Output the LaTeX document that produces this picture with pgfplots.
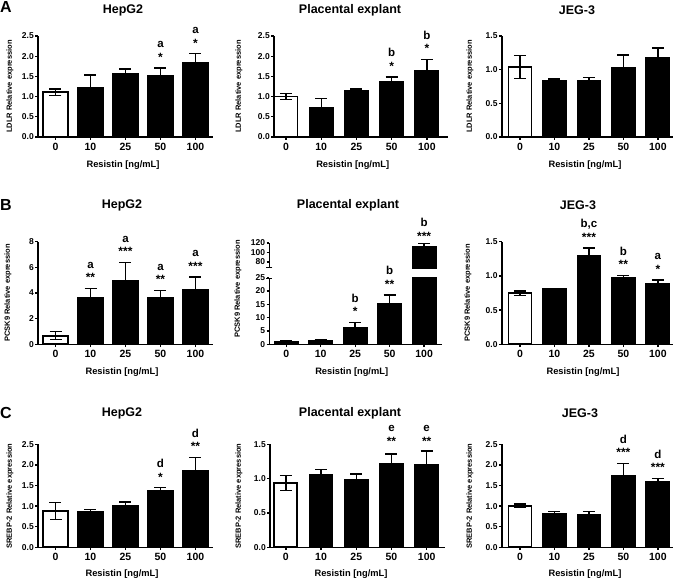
\documentclass[border=0pt]{standalone}
\usepackage{fontspec}
\setmainfont{Liberation Sans}
\usepackage{pgfplots}
\pgfplotsset{compat=1.18}
\usetikzlibrary{arrows.meta}
\newcommand\fs[1]{\fontsize{#1}{#1}\selectfont\bfseries}
\pgfplotsset{
  panel/.style={
    scale only axis, anchor=south west, clip=true,
    axis lines=left, axis line style={-, line width=1.6pt, black},
    xmin=-0.5, xmax=4.5, ymin=0,
    xtick={0,1,2,3,4}, xticklabels={0,10,25,50,100},
    tick align=outside, major tick length=2.8pt,
    every tick/.style={line width=1.3pt, black},
    /pgf/number format/assume math mode=true,
    xticklabel style={font=\fs{10.5}},
    yticklabel style={font=\fs{8.5}, inner sep=1.2pt},
  },
  dec/.style={yticklabel style={/pgf/number format/.cd, fixed, fixed zerofill, precision=1}},
  wbar/.style={ybar, bar shift=0pt, bar width=#1, fill=white, draw=black, line width=1.8pt,
    error bars/y dir=both, error bars/y explicit,
    error bars/error bar style={line width=1.4pt, black},
    error bars/error mark options={rotate=90, mark size=6pt, line width=1.4pt, black}},
  bbar/.style={wbar=#1, fill=black},
  star/.style={draw=none, mark=none, nodes near coords={\pgfplotspointmeta}, point meta=explicit symbolic,
    every node near coord/.append style={inner sep=0pt, text depth=0pt, font=\fs{12}, yshift=6.5pt, black}},
  letter/.style={draw=none, mark=none, nodes near coords={\pgfplotspointmeta}, point meta=explicit symbolic,
    every node near coord/.append style={inner sep=0pt, text depth=0pt, font=\fs{11.5}, yshift=20pt, black}},
}
\begin{document}
\begin{tikzpicture}
\useasboundingbox (0,0) rectangle (676pt,-580pt);

% ================= Row A =================
\begin{axis}[panel, dec, at={(38pt,-137pt)}, width=175pt, height=101pt, ymax=2.5, ytick={0,0.5,1,1.5,2,2.5}]
\addplot[wbar=25pt] coordinates {(0,1.11) +- (0,0.08)};
\addplot[bbar=25pt] coordinates {(1,1.225) +- (0,0.305) (2,1.55) +- (0,0.13) (3,1.52) +- (0,0.19) (4,1.84) +- (0,0.22)};
\addplot[star] coordinates {(3,1.71) [*] (4,2.06) [*]};
\addplot[letter] coordinates {(3,1.71) [a] (4,2.06) [a]};
\end{axis}

\begin{axis}[panel, dec, at={(274pt,-137pt)}, width=174pt, height=101pt, xmin=-0.34, xmax=4.6, ymax=2.5, ytick={0,0.5,1,1.5,2,2.5}]
\addplot[wbar=23pt] coordinates {(0,1.0) +- (0,0.075)};
\addplot[bbar=23pt] coordinates {(1,0.73) +- (0,0.22) (2,1.15) +- (0,0.04) (3,1.37) +- (0,0.12) (4,1.64) +- (0,0.28)};
\addplot[star] coordinates {(3,1.49) [*] (4,1.92) [*]};
\addplot[letter] coordinates {(3,1.49) [b] (4,1.92) [b]};
\end{axis}

\begin{axis}[panel, dec, at={(501.7pt,-137pt)}, width=171pt, height=101pt, xmin=-0.53, xmax=4.43, ymax=1.5, ytick={0,0.5,1,1.5}]
\addplot[wbar=23pt] coordinates {(0,1.04) +- (0,0.17)};
\addplot[bbar=23pt] coordinates {(1,0.83) +- (0,0.03) (2,0.84) +- (0,0.04) (3,1.03) +- (0,0.19) (4,1.17) +- (0,0.15)};
\end{axis}

% ================= Row B =================
\begin{axis}[panel, at={(38pt,-344.3pt)}, width=175pt, height=102.6pt, ymax=8, ytick={0,2,4,6,8}]
\addplot[wbar=25pt] coordinates {(0,0.67) +- (0,0.31)};
\addplot[bbar=25pt] coordinates {(1,3.61) +- (0,0.75) (2,4.95) +- (0,1.45) (3,3.59) +- (0,0.6) (4,4.26) +- (0,0.98)};
\addplot[star] coordinates {(1,4.36) [**] (2,6.40) [***] (3,4.19) [**] (4,5.24) [***]};
\addplot[letter] coordinates {(1,4.36) [a] (2,6.40) [a] (3,4.19) [a] (4,5.24) [a]};
\end{axis}

% placental explant, lower segment
\begin{axis}[panel, at={(269.3pt,-344.3pt)}, width=172.4pt, height=66.8pt, xmin=-0.49, xmax=4.51, ymax=25, ytick={0,5,10,15,20,25},
  y axis line style={-{Bar[width=6pt, line width=1.5pt]}}]
\addplot[wbar=23pt] coordinates {(0,1.0) +- (0,0.3)};
\addplot[bbar=23pt] coordinates {(1,1.25) +- (0,0.6) (2,6.3) +- (0,1.9) (3,15.0) +- (0,3.5)};
\addplot[ybar, bar shift=0pt, bar width=23pt, fill=black, draw=black, line width=1.8pt] coordinates {(4,112)};
\addplot[star] coordinates {(2,8.2) [*] (3,18.5) [**]};
\addplot[letter] coordinates {(2,8.2) [b] (3,18.5) [b]};
\end{axis}
% placental explant, upper segment
\begin{axis}[panel, at={(269.3pt,-268.3pt)}, width=172.4pt, height=25.3pt, xmin=-0.49, xmax=4.51, ymin=66.7, ymax=120, ytick={80,100,120},
  axis x line=none, xtick=\empty,
  y axis line style={{Bar[width=6pt, line width=1.5pt]}-}]
\addplot[bbar=23pt] coordinates {(4,112) +- (0,7.5)};
\addplot[star] coordinates {(4,111.4) [***]};
\addplot[letter] coordinates {(4,111.4) [b]};
\end{axis}

\begin{axis}[panel, dec, at={(501.7pt,-344.3pt)}, width=171pt, height=102.6pt, xmin=-0.53, xmax=4.43, ymax=1.5, ytick={0,0.5,1,1.5}]
\addplot[wbar=23pt] coordinates {(0,0.745) +- (0,0.035)};
\addplot[bbar=23pt] coordinates {(1,0.81) +- (0,0.01) (2,1.29) +- (0,0.12) (3,0.97) +- (0,0.04) (4,0.88) +- (0,0.06)};
\addplot[star] coordinates {(2,1.41) [***] (3,1.01) [**] (4,0.94) [*]};
\addplot[letter] coordinates {(2,1.41) [{b,c}] (3,1.01) [b] (4,0.94) [a]};
\end{axis}

% ================= Row C =================
\begin{axis}[panel, dec, at={(38pt,-547.3pt)}, width=175pt, height=103pt, ymax=2.5, ytick={0,0.5,1,1.5,2,2.5}]
\addplot[wbar=25pt] coordinates {(0,0.88) +- (0,0.21)};
\addplot[bbar=25pt] coordinates {(1,0.866) +- (0,0.05) (2,1.01) +- (0,0.09) (3,1.375) +- (0,0.07) (4,1.86) +- (0,0.32)};
\addplot[star] coordinates {(3,1.445) [*] (4,2.18) [**]};
\addplot[letter] coordinates {(3,1.445) [d] (4,2.18) [d]};
\end{axis}

\begin{axis}[panel, dec, at={(270pt,-547.3pt)}, width=175pt, height=103pt, xmin=-0.45, xmax=4.52, ymax=1.5, ytick={0,0.5,1,1.5}]
\addplot[wbar=23pt] coordinates {(0,0.94) +- (0,0.11)};
\addplot[bbar=23pt] coordinates {(1,1.06) +- (0,0.07) (2,0.976) +- (0,0.09) (3,1.22) +- (0,0.14) (4,1.20) +- (0,0.20)};
\addplot[star] coordinates {(3,1.39) [**] (4,1.39) [**]};
\addplot[letter] coordinates {(3,1.39) [e] (4,1.39) [e]};
\end{axis}

\begin{axis}[panel, dec, at={(501.7pt,-547.3pt)}, width=171pt, height=103pt, xmin=-0.53, xmax=4.43, ymax=2.5, ytick={0,0.5,1,1.5,2,2.5}]
\addplot[wbar=23pt] coordinates {(0,1.01) +- (0,0.04)};
\addplot[bbar=23pt] coordinates {(1,0.82) +- (0,0.05) (2,0.79) +- (0,0.08) (3,1.74) +- (0,0.30) (4,1.58) +- (0,0.09)};
\addplot[star] coordinates {(3,2.04) [***] (4,1.67) [***]};
\addplot[letter] coordinates {(3,2.04) [d] (4,1.67) [d]};
\end{axis}

% ================= Text =================
\node[font=\fs{16}] at (6pt,-7pt) {A};
\node[font=\fs{16}] at (6pt,-205pt) {B};
\node[font=\fs{16}] at (6pt,-413pt) {C};

\node[font=\fs{12.5}] at (123pt,-10pt) {HepG2};
\node[font=\fs{12.5}] at (350pt,-10pt) {Placental explant};
\node[font=\fs{12.5}] at (577pt,-10pt) {JEG-3};
\node[font=\fs{12.5}] at (122pt,-205pt) {HepG2};
\node[font=\fs{12.5}] at (348pt,-205pt) {Placental explant};
\node[font=\fs{12.5}] at (578pt,-205pt) {JEG-3};
\node[font=\fs{12.5}] at (122pt,-413pt) {HepG2};
\node[font=\fs{12.5}] at (350pt,-413pt) {Placental explant};
\node[font=\fs{12.5}] at (580pt,-413pt) {JEG-3};

\node[font=\fs{9.3}] at (123pt,-165pt) {Resistin [ng/mL]};
\node[font=\fs{9.3}] at (352.7pt,-165pt) {Resistin [ng/mL]};
\node[font=\fs{9.3}] at (585pt,-165pt) {Resistin [ng/mL]};
\node[font=\fs{9.3}] at (122pt,-372pt) {Resistin [ng/mL]};
\node[font=\fs{9.3}] at (351.7pt,-372pt) {Resistin [ng/mL]};
\node[font=\fs{9.3}] at (583pt,-372pt) {Resistin [ng/mL]};
\node[font=\fs{9.3}] at (122pt,-574pt) {Resistin [ng/mL]};
\node[font=\fs{9.3}] at (351pt,-574pt) {Resistin [ng/mL]};
\node[font=\fs{9.3}] at (585pt,-574pt) {Resistin [ng/mL]};

\node[font=\fs{7.5}, rotate=90] at (10pt,-86.5pt) {LDLR Relative expression};
\node[font=\fs{7.5}, rotate=90] at (239pt,-86.5pt) {LDLR Relative expression};
\node[font=\fs{7.5}, rotate=90] at (470pt,-86.5pt) {LDLR Relative expression};
\node[font=\fs{7.5}, rotate=90] at (8pt,-293pt) {PCSK9 Relative expression};
\node[font=\fs{7.5}, rotate=90] at (238pt,-289pt) {PCSK9 Relative expression};
\node[font=\fs{7.5}, rotate=90] at (468pt,-293pt) {PCSK9 Relative expression};
\node[font=\fs{7.5}, rotate=90] at (10pt,-496pt) {SREBP-2 Relative expression};
\node[font=\fs{7.5}, rotate=90] at (239pt,-496pt) {SREBP-2 Relative expression};
\node[font=\fs{7.5}, rotate=90] at (470pt,-496pt) {SREBP-2 Relative expression};
\end{tikzpicture}
\end{document}
